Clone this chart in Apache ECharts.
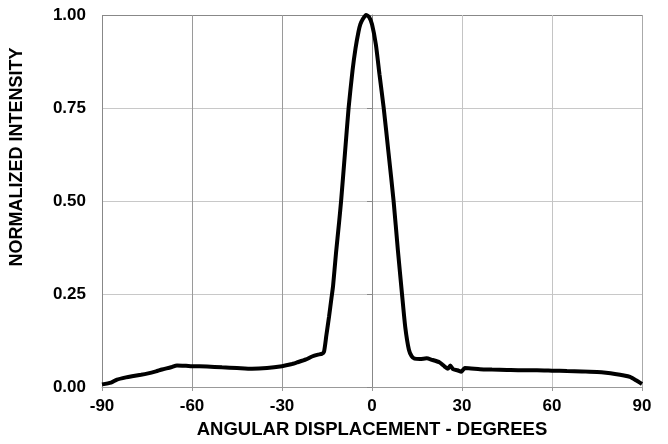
<!DOCTYPE html>
<html>
<head>
<meta charset="utf-8">
<script src="https://cdn.jsdelivr.net/npm/echarts@6/dist/echarts.min.js"></script>
<style>
html,body{margin:0;padding:0;background:#fff;}
#chart{width:668px;height:444px;}
</style>
</head>
<body>
<div id="chart"></div>
<script>
// Angular displacement (degrees)
var angles = [-90, -87, -85, -82, -80, -77, -75, -72, -70, -67, -65, -62, -60, -55, -50, -45, -40, -35, -30, -27, -25, -22, -20, -18, -16.8, -16, -15.2, -14.3, -13.5, -13, -12, -11, -10.3, -9, -7.8, -6.5, -5.5, -4.5, -3.9, -3, -2, -1, 0, 1.3, 2.5, 3.9, 5.5, 7.2, 8.6, 10, 11.1, 12.3, 13.2, 14.2, 16, 18.2, 20, 22.6, 23.5, 24.2, 25.3, 26.1, 27, 28.5, 29.8, 30.9, 33, 36, 40, 45, 50, 55, 60, 65, 70, 75, 78, 81, 84, 86, 88, 90];
// Normalized intensity
var intensity = [0.007, 0.012, 0.02, 0.026, 0.029, 0.033, 0.036, 0.042, 0.047, 0.053, 0.058, 0.057, 0.056, 0.055, 0.053, 0.051, 0.049, 0.051, 0.056, 0.061, 0.066, 0.074, 0.082, 0.087, 0.089, 0.095, 0.14, 0.19, 0.24, 0.27, 0.36, 0.44, 0.50, 0.63, 0.75, 0.85, 0.91, 0.955, 0.975, 0.99, 1.0, 0.995, 0.975, 0.92, 0.84, 0.75, 0.63, 0.50, 0.37, 0.25, 0.16, 0.10, 0.083, 0.076, 0.075, 0.077, 0.073, 0.066, 0.060, 0.055, 0.049, 0.058, 0.048, 0.045, 0.041, 0.051, 0.050, 0.048, 0.047, 0.046, 0.045, 0.045, 0.044, 0.043, 0.042, 0.040, 0.038, 0.035, 0.031, 0.027, 0.018, 0.008];
var xTicks = [-90, -60, -30, 0, 30, 60, 90];
var yTicks = [0, 0.25, 0.5, 0.75, 1.0];
var xTitle = 'ANGULAR DISPLACEMENT - DEGREES';
var yTitle = 'NORMALIZED INTENSITY';

var points = angles.map(function (a, i) { return [a, intensity[i]]; });
var FONT = 'Liberation Sans, Arial, sans-serif';

var chart = echarts.init(document.getElementById('chart'), null, {renderer: 'canvas'});
chart.setOption({
  animation: false,
  backgroundColor: '#fff',
  grid: {left: 102, right: 26, top: 15, bottom: 55, containLabel: false},
  xAxis: {
    type: 'value',
    min: xTicks[0], max: xTicks[xTicks.length - 1], interval: 30,
    name: xTitle, nameLocation: 'middle', nameGap: 33,
    nameTextStyle: {fontFamily: FONT, fontWeight: 'bold', fontSize: 18.5, color: '#000'},
    axisLine: {show: true, lineStyle: {color: '#999', width: 1}},
    axisTick: {show: true, length: 4, lineStyle: {color: '#999'}},
    axisLabel: {fontFamily: FONT, fontWeight: 'bold', fontSize: 17, color: '#000', margin: 11,
      formatter: function (v) { return String(v); }},
    splitLine: {show: true, lineStyle: {color: ['#888', '#9a9a9a', '#9a9a9a', '#9a9a9a', '#c4c4c4', '#c4c4c4', '#aaa'], width: 1}}
  },
  yAxis: {
    type: 'value',
    min: yTicks[0], max: yTicks[yTicks.length - 1], interval: 0.25,
    name: yTitle, nameLocation: 'middle', nameGap: 76, nameRotate: 90,
    nameTextStyle: {fontFamily: FONT, fontWeight: 'bold', fontSize: 18, color: '#000', padding: [0, 0, 0, 88]},
    axisLine: {show: true, lineStyle: {color: '#888', width: 1}},
    axisTick: {show: true, length: 5, lineStyle: {color: '#888'}},
    axisLabel: {fontFamily: FONT, fontWeight: 'bold', fontSize: 17, color: '#000', margin: 16,
      formatter: function (v) { return v.toFixed(2); }},
    splitLine: {show: true, lineStyle: {color: ['#999', '#c8c8c8', '#c8c8c8', '#c8c8c8', '#888'], width: 1}}
  },
  series: [{
    type: 'line',
    data: points,
    smooth: 0.2,
    showSymbol: false,
    lineStyle: {color: '#000', width: 4},
    z: 5
  }]
});
</script>
</body>
</html>
